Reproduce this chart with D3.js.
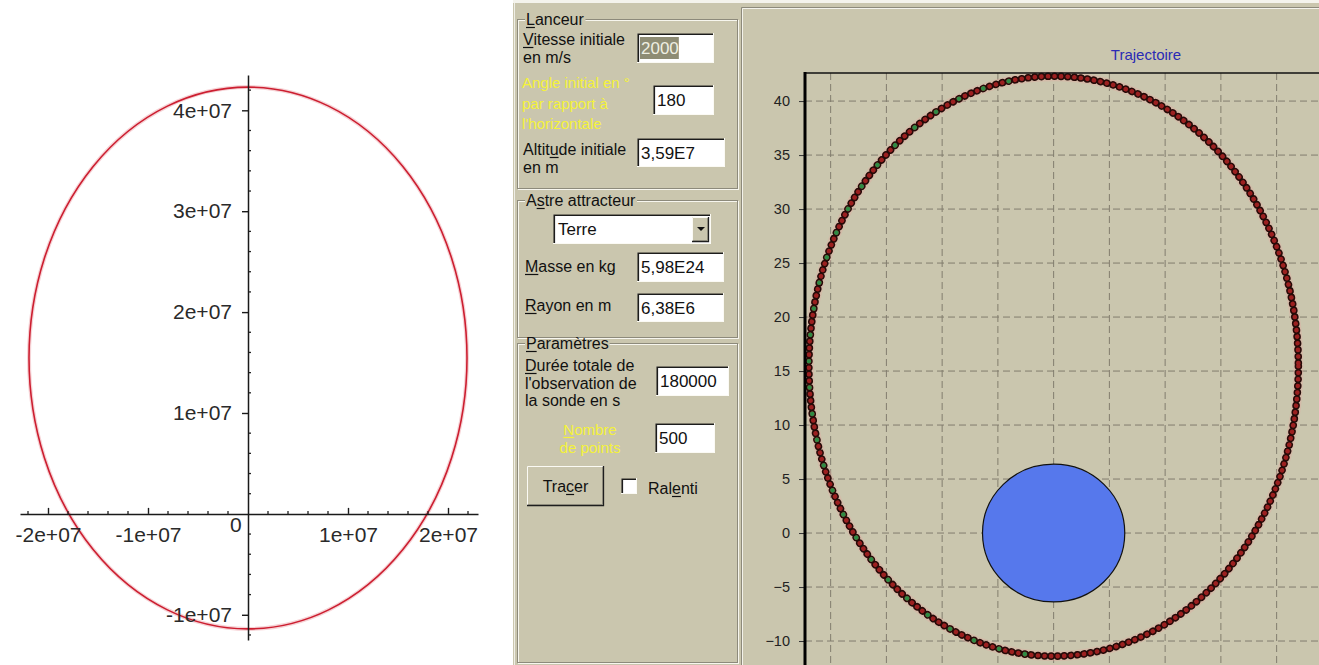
<!DOCTYPE html>
<html>
<head>
<meta charset="utf-8">
<script src="https://cdn.jsdelivr.net/npm/d3@7"></script>
<style>
  html, body { margin: 0; padding: 0; background: #ffffff; }
  svg { display: block; font-family: "Liberation Sans", Arial, sans-serif; }
</style>
</head>
<body>
<svg id="chart" width="1319" height="665"></svg>
<script>
// ---- Maple plot of the orbit (metres) ----
const mapleXTicks = [-2e7, -1e7, 1e7, 2e7];
const mapleXLabels = ["-2e+07", "-1e+07", "1e+07", "2e+07"];
const mapleYTicks = [-1e7, 1e7, 2e7, 3e7, 4e7];
const mapleYLabels = ["-1e+07", "1e+07", "2e+07", "3e+07", "4e+07"];
const mapleOrbitY = [4.23e7, -1.14e7];      // apogee, perigee
const mapleOrbitHalfWidth = [2.19e7];

// ---- Simulation window: trajectory (thousands of km) ----
const trajYTicks = [-10, -5, 0, 5, 10, 15, 20, 25, 30, 35, 40];
const trajGridX = [-20, -15, -10, -5, 0, 5, 10, 15, 20];
const trajOrbitY = [42.3, -11.4];           // apogee, perigee
const trajOrbitHalfWidth = [21.95];
const planetRadius = [6.38];
const trajTitle = ["Trajectoire"];

// ---- Form texts ----
const groupTitles = ["Lanceur", "Astre attracteur", "Paramètres"];
const fieldLabels = [
  ["Vitesse initiale", "en m/s"],
  ["Angle initial en °", "par rapport à", "l'horizontale"],
  ["Altitude initiale", "en m"],
  ["Masse en kg"],
  ["Rayon en m"],
  ["Durée totale de", "l'observation de", "la sonde en s"],
  ["Nombre", "de points"]
];
const fieldValues = ["2000", "180", "3,59E7", "5,98E24", "6,38E6", "180000", "500"];
const bodyChoice = ["Terre"];
const buttonLabels = ["Tracer", "Ralenti"];

const svg = d3.select("#chart");
const FONT = "'Liberation Sans', Arial, sans-serif";

/* =================== Maple plot =================== */
const mx = d3.scaleLinear().domain([-2.28e7, 2.30e7]).range([20, 478]);
const my = d3.scaleLinear().domain([-1.25e7, 4.35e7]).range([640, 75]);
const maple = svg.append("g");

const mCy = (mapleOrbitY[0] + mapleOrbitY[1]) / 2;
const mRy = (mapleOrbitY[0] - mapleOrbitY[1]) / 2;
const mEllipse = sel => sel
  .attr("cx", mx(0)).attr("cy", my(mCy))
  .attr("rx", mx(mapleOrbitHalfWidth[0]) - mx(0))
  .attr("ry", my(mCy - mRy) - my(mCy))
  .attr("fill", "none");
maple.append("ellipse").call(mEllipse).attr("stroke", "#f6d3d6").attr("stroke-width", 4);
maple.append("ellipse").call(mEllipse).attr("stroke", "#cc1e30").attr("stroke-width", 1.6);

// minor ticks every 2e6
const minorX = d3.range(-22e6, 23e6, 2e6).filter(v => v % 1e7 !== 0);
const minorY = d3.range(-12e6, 44e6, 2e6).filter(v => v % 1e7 !== 0);
maple.selectAll(".mnx").data(minorX).join("line")
  .attr("x1", d => mx(d)).attr("x2", d => mx(d))
  .attr("y1", my(0) - 3).attr("y2", my(0))
  .attr("stroke", "#222").attr("stroke-width", 1.3);
maple.selectAll(".mny").data(minorY).join("line")
  .attr("x1", mx(0)).attr("x2", mx(0) + 3)
  .attr("y1", d => my(d)).attr("y2", d => my(d))
  .attr("stroke", "#222").attr("stroke-width", 1.3);

const mxAxis = d3.axisBottom(mx).tickValues(mapleXTicks)
  .tickFormat((d, i) => mapleXLabels[i]).tickSizeInner(-6).tickSizeOuter(0).tickPadding(13);
const myAxis = d3.axisLeft(my).tickValues(mapleYTicks)
  .tickFormat((d, i) => mapleYLabels[i]).tickSizeInner(6).tickSizeOuter(0).tickPadding(10);

const gx = maple.append("g").attr("transform", `translate(0,${my(0)})`).call(mxAxis);
const gy = maple.append("g").attr("transform", `translate(${mx(0)},0)`).call(myAxis);
[gx, gy].forEach(g => {
  g.select(".domain").attr("stroke", "#1a1a1a").attr("stroke-width", 1.5);
  g.selectAll(".tick line").attr("stroke", "#1a1a1a").attr("stroke-width", 1.4);
  g.selectAll(".tick text").attr("font-family", FONT).attr("font-size", 21).attr("fill", "#2a2a2a");
});
maple.append("text").attr("x", mx(0) - 18).attr("y", my(0) + 18)
  .attr("font-family", FONT).attr("font-size", 21).attr("fill", "#2a2a2a").text("0");

/* =================== Application window =================== */
const BG = "#cac6ae";
const DARK = "#8d8a7b";
const ui = svg.append("g").attr("font-family", FONT);
ui.append("rect").attr("x", 513).attr("y", 0).attr("width", 806).attr("height", 665).attr("fill", BG);
ui.append("rect").attr("x", 513).attr("y", 0).attr("width", 806).attr("height", 3).attr("fill", "#f4f3ec");
ui.append("line").attr("x1", 514.5).attr("x2", 514.5).attr("y1", 3).attr("y2", 665).attr("stroke", "#efeee6");

function ulText(parent, x, y, str, ul, opts = {}) {
  const t = parent.append("text").attr("x", x).attr("y", y)
    .attr("font-size", opts.size || 16).attr("fill", opts.fill || "#111")
    .attr("text-anchor", opts.anchor || "start").text(str);
  if (ul != null && ul >= 0) {
    const ext = t.node().getExtentOfChar(ul);
    parent.append("line").attr("x1", ext.x).attr("x2", ext.x + ext.width)
      .attr("y1", y + 2.5).attr("y2", y + 2.5)
      .attr("stroke", opts.fill || "#111").attr("stroke-width", 1.2);
  }
  return t;
}

function groupBox(x1, y1, x2, y2, title, ul) {
  ui.append("rect").attr("x", x1 + 1.5).attr("y", y1 + 1.5).attr("width", x2 - x1 - 1).attr("height", y2 - y1 - 1)
    .attr("fill", "none").attr("stroke", "#f7f6ee");
  ui.append("rect").attr("x", x1 + 0.5).attr("y", y1 + 0.5).attr("width", x2 - x1 - 1).attr("height", y2 - y1 - 1)
    .attr("fill", "none").attr("stroke", DARK);
  const probe = ui.append("text").attr("x", x1 + 9).attr("y", y1 + 6).attr("font-size", 16).text(title);
  const bb = probe.node().getBBox();
  probe.remove();
  ui.append("rect").attr("x", bb.x - 1).attr("y", y1 - 2).attr("width", bb.width + 2).attr("height", 6).attr("fill", BG);
  ulText(ui, x1 + 9, y1 + 6, title, ul);
}

function editBox(x1, y1, x2, y2) {
  ui.append("rect").attr("x", x1).attr("y", y1).attr("width", x2 - x1).attr("height", y2 - y1).attr("fill", "#ffffff");
  ui.append("path").attr("d", `M${x1 + 0.5},${y2}V${y1 + 0.5}H${x2}`).attr("fill", "none").attr("stroke", "#7c796b");
  ui.append("path").attr("d", `M${x1 + 1.5},${y2 - 1}V${y1 + 1.5}H${x2 - 1}`).attr("fill", "none").attr("stroke", "#1c1c1c").attr("stroke-width", 1.2);
  ui.append("path").attr("d", `M${x1},${y2 - 0.5}H${x2 - 0.5}V${y1}`).attr("fill", "none").attr("stroke", "#fbfaf4");
}

function raised(x1, y1, x2, y2) {
  ui.append("rect").attr("x", x1).attr("y", y1).attr("width", x2 - x1).attr("height", y2 - y1).attr("fill", BG);
  ui.append("path").attr("d", `M${x1 + 0.5},${y2}V${y1 + 0.5}H${x2}`).attr("fill", "none").attr("stroke", "#fbfaf4");
  ui.append("path").attr("d", `M${x1},${y2 - 0.5}H${x2 - 0.5}V${y1}`).attr("fill", "none").attr("stroke", "#1e1e1e").attr("stroke-width", 1.3);
  ui.append("path").attr("d", `M${x1 + 1},${y2 - 1.5}H${x2 - 1.5}V${y1 + 1}`).attr("fill", "none").attr("stroke", DARK);
}

// group frames
groupBox(517, 19, 738, 189, groupTitles[0], 0);
groupBox(517, 200, 738, 338, groupTitles[1], 1);
groupBox(517, 343, 738, 663, groupTitles[2], 0);

// field labels
const labelLayout = [
  { x: 523, ys: [45, 63], ul: 0 },
  { x: 522, ys: [88, 109, 129], yellow: true },
  { x: 523, ys: [155, 173], ul: 5 },
  { x: 525, ys: [272], ul: 0 },
  { x: 525, ys: [311], ul: 0 },
  { x: 525, ys: [371, 389, 406], ul: 0 },
  { x: 590, ys: [435, 453], ul: 0, yellow: true, anchor: "middle" }
];
fieldLabels.forEach((lines, i) => {
  const L = labelLayout[i];
  lines.forEach((s, j) => {
    const opts = L.yellow ? { fill: "#f4f23a", size: 15, anchor: L.anchor } : {};
    ulText(ui, L.x, L.ys[j], s, j === 0 ? L.ul : -1, opts);
  });
});

// edit boxes
const boxLayout = [
  [637, 33, 714, 63], [653, 85, 714, 115], [637, 138, 725, 167],
  [637, 252, 724, 282], [637, 293, 724, 322], [656, 366, 729, 396], [655, 423, 715, 453]
];
fieldValues.forEach((v, i) => {
  const [x1, y1, x2, y2] = boxLayout[i];
  editBox(x1, y1, x2, y2);
  if (i === 0) {
    // selected text in the speed field
    const t = ui.append("text").attr("x", x1 + 4).attr("y", (y1 + y2) / 2 + 6).attr("font-size", 17).text(v);
    const bb = t.node().getBBox();
    ui.insert("rect", () => t.node()).attr("x", bb.x - 1).attr("y", y1 + 4).attr("width", bb.width + 1).attr("height", y2 - y1 - 8).attr("fill", "#8e8c74");
    t.attr("fill", "#efefe2");
  } else {
    ui.append("text").attr("x", x1 + 4).attr("y", (y1 + y2) / 2 + 6).attr("font-size", 17).attr("fill", "#111").text(v);
  }
});

// combo box
editBox(553, 214, 711, 244);
ui.append("text").attr("x", 558).attr("y", 235).attr("font-size", 17).attr("fill", "#111").text(bodyChoice[0]);
raised(692, 217, 709, 242);
ui.append("path").attr("d", "M697,227h8l-4,4z").attr("fill", "#111");

// button and checkbox
raised(527, 466, 604, 506);
ulText(ui, 565.5, 492, buttonLabels[0], 3, { anchor: "middle" });
editBox(621, 478, 637, 494);
ulText(ui, 648, 494, buttonLabels[1], 3);

/* =================== Trajectory chart =================== */
// pane border
ui.append("path").attr("d", "M741.5,665V7.5H1319").attr("fill", "none").attr("stroke", DARK);
ui.append("path").attr("d", "M742.5,665V8.5H1319").attr("fill", "none").attr("stroke", "#f3f2ea");

const tx = d3.scaleLinear().domain([-22.3, 23.8]).range([805, 1319]);
const ty = d3.scaleLinear().domain([-12.22, 42.6]).range([665, 73]);
const plot = svg.append("g").attr("font-family", FONT);
const X0 = tx.range()[0], X1 = tx.range()[1], Y0 = ty.range()[1], Y1 = ty.range()[0];

// dashed grid
plot.selectAll(".gh").data(trajYTicks).join("line")
  .attr("x1", X0).attr("x2", X1).attr("y1", d => ty(d)).attr("y2", d => ty(d))
  .attr("stroke", "#827d6e").attr("stroke-width", 1).attr("stroke-dasharray", "7 4");
plot.selectAll(".gv").data(trajGridX).join("line")
  .attr("x1", d => tx(d)).attr("x2", d => tx(d)).attr("y1", Y0).attr("y2", Y1)
  .attr("stroke", "#827d6e").attr("stroke-width", 1).attr("stroke-dasharray", "7 4");

// planet
plot.append("ellipse")
  .attr("cx", tx(0)).attr("cy", ty(0))
  .attr("rx", tx(planetRadius[0]) - tx(0)).attr("ry", ty(0) - ty(planetRadius[0]))
  .attr("fill", "#5678ec").attr("stroke", "#111").attr("stroke-width", 1.2);

// trajectory: beaded stroke along the orbit
const tCy = (trajOrbitY[0] + trajOrbitY[1]) / 2;
const tRy = (trajOrbitY[0] - trajOrbitY[1]) / 2;
const tEllipse = sel => sel
  .attr("cx", tx(0)).attr("cy", ty(tCy))
  .attr("rx", tx(trajOrbitHalfWidth[0]) - tx(0))
  .attr("ry", ty(tCy - tRy) - ty(tCy))
  .attr("fill", "none").attr("stroke-linecap", "round");
plot.append("clipPath").attr("id", "leftHalf").append("rect")
  .attr("x", X0).attr("y", Y0 - 5).attr("width", tx(-2) - X0).attr("height", Y1 - Y0 + 5);
plot.append("ellipse").call(tEllipse).attr("stroke", "#e2a9a0").attr("stroke-opacity", 0.4).attr("stroke-width", 10);
plot.append("ellipse").call(tEllipse).attr("stroke", "#5a1512").attr("stroke-width", 2);
plot.append("ellipse").call(tEllipse).attr("stroke", "#260a08").attr("stroke-width", 7.6).attr("stroke-dasharray", "0.01 6.6");
plot.append("ellipse").call(tEllipse).attr("stroke", "#9c2020").attr("stroke-width", 4.6).attr("stroke-dasharray", "0.01 6.6");
plot.append("ellipse").call(tEllipse).attr("clip-path", "url(#leftHalf)")
  .attr("stroke", "#2f8a44").attr("stroke-width", 4.6).attr("stroke-dasharray", "0.01 26.43");

// axis and frame
const tyAxis = d3.axisLeft(ty).tickValues(trajYTicks).tickSizeInner(6).tickSizeOuter(0).tickPadding(9);
const gt = plot.append("g").attr("transform", `translate(${X0},0)`).call(tyAxis);
gt.select(".domain").remove();
gt.selectAll(".tick line").attr("stroke", "#333").attr("stroke-width", 1);
gt.selectAll(".tick text").attr("font-family", FONT).attr("font-size", 14.5).attr("fill", "#222");
plot.append("line").attr("x1", X0).attr("x2", X1).attr("y1", Y0).attr("y2", Y0).attr("stroke", "#111").attr("stroke-width", 1.5);
plot.append("line").attr("x1", X0).attr("x2", X0).attr("y1", Y0 - 1).attr("y2", Y1).attr("stroke", "#000").attr("stroke-width", 3);

plot.append("text").attr("x", 1146).attr("y", 60).attr("text-anchor", "middle")
  .attr("font-size", 15).attr("fill", "#2b2bb5").text(trajTitle[0]);
</script>
</body>
</html>
